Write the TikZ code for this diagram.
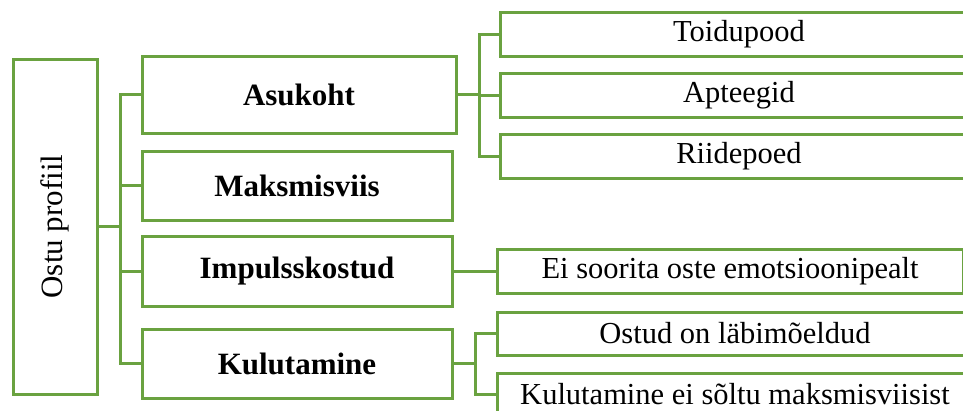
\documentclass[tikz,border=0pt]{standalone}
\usepackage{fontspec}
\setmainfont{Liberation Serif}
\definecolor{lgreen}{RGB}{106,162,64}
\begin{document}
\begin{tikzpicture}[x=1pt,y=-1pt,
  box/.style={draw=lgreen,line width=3pt,fill=white,rectangle,inner sep=0pt,
    font=\fontsize{30.5}{34}\selectfont,text=black},
  bbox/.style={box,font=\fontsize{31}{34}\selectfont\bfseries},
  conn/.style={draw=lgreen,line width=3pt}]
\clip (0,0) rectangle (963,410);
\fill[white] (0,0) rectangle (963,410);
% root
\node[box,minimum width=84pt,minimum height=335pt] (root) at (55,226.5) {};
\node[rotate=90,font=\fontsize{31}{34}\selectfont] (roott) at (root.center) {Ostu profiil};
% level 1
\node[bbox,minimum width=314pt,minimum height=77pt] (a1) at (299,94.5) {Asukoht};
\node[bbox,minimum width=310pt,minimum height=69pt] (a2) at (297,185.5) {Maksmisviis};
\node[bbox,minimum width=310pt,minimum height=70pt] (a3) at (297,271.5) {Impulsskostud};
\node[bbox,minimum width=310pt,minimum height=69pt] (a4) at (297,363.5) {Kulutamine};
% level 2
\node[box,minimum width=478pt,minimum height=44pt] (c1) at (739,34) {Toidupood};
\node[box,minimum width=478pt,minimum height=44pt] (c2) at (739,95) {Apteegid};
\node[box,minimum width=478pt,minimum height=44pt] (c3) at (739,156) {Riidepoed};
\node[box,minimum width=466pt,minimum height=44pt] (c4) at (730,271.5) {Ei soorita oste emotsioonipealt};
\node[box,minimum width=476pt,minimum height=43pt] (c5) at (735,333.5) {Ostud on läbimõeldud};
\node[box,minimum width=476pt,minimum height=43pt] (c6) at (735,394.5) {Kulutamine ei sõltu maksmisviisist};
% connectors
\foreach \n in {a1,a2,a3,a4}
  \draw[conn] (root.east) -- ++(22,0) |- (\n.west);
\foreach \n in {c1,c2,c3}
  \draw[conn] (a1.east) -- ++(22,0) |- (\n.west);
\draw[conn] (a3.east) -- (c4.west);
\foreach \n in {c5,c6}
  \draw[conn] (a4.east) -- ++(22,0) |- (\n.west);
\end{tikzpicture}
\end{document}
